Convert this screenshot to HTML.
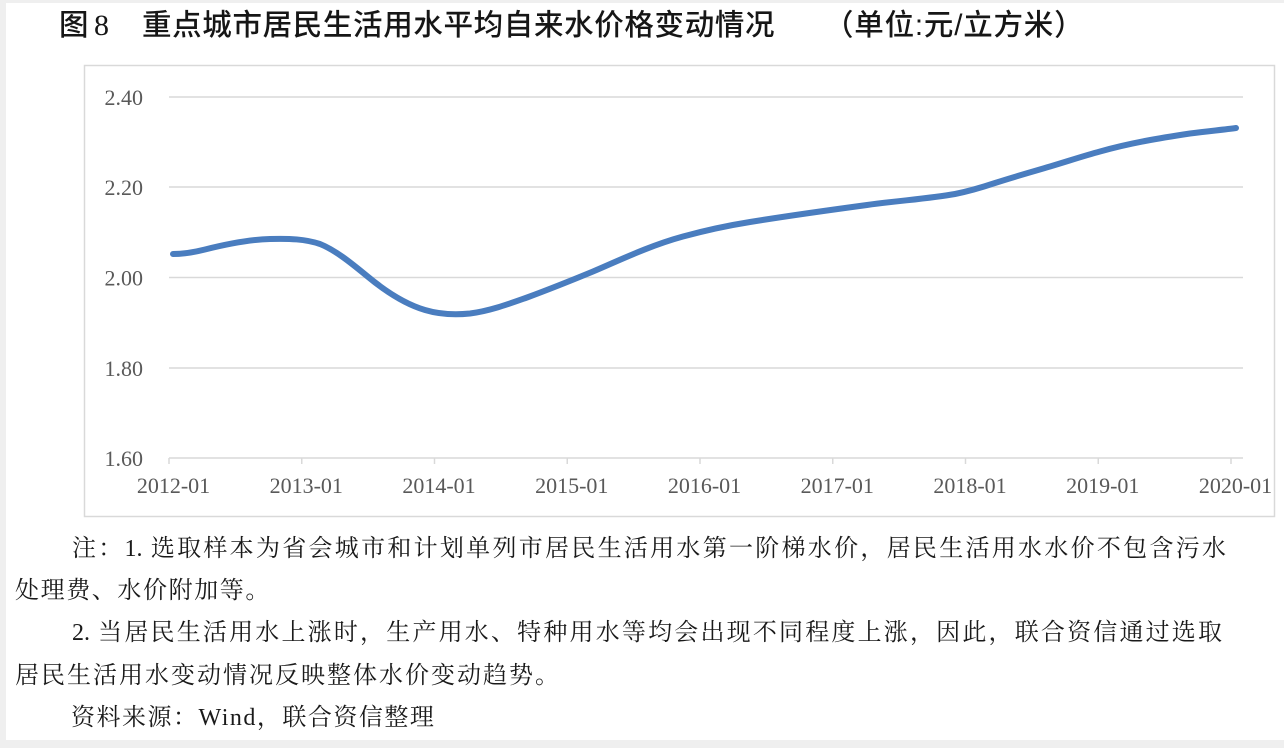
<!DOCTYPE html>
<html>
<head>
<meta charset="utf-8">
<style>
  html,body{margin:0;padding:0;}
  body{width:1284px;height:748px;background:#efefef;position:relative;overflow:hidden;}
  .page{position:absolute;left:6px;top:3px;width:1278px;height:737px;background:#ffffff;}
  .abs{position:absolute;white-space:nowrap;}
  .title{font-family:"Liberation Sans","Noto Sans CJK SC",sans-serif;font-size:29.5px;line-height:30px;color:#161616;font-weight:500;}
  .note{font-family:"Liberation Serif","Noto Serif CJK SC",serif;font-size:24px;line-height:30px;color:#1a1a1a;}
  .just{text-align:justify;text-align-last:justify;text-justify:inter-character;}
  svg{position:absolute;left:0;top:0;}
</style>
</head>
<body>
<div class="page"></div>

<!-- Title -->
<div class="abs title" style="left:59px;top:11px;">图</div>
<div class="abs title" style="left:94px;top:11px;font-family:'Liberation Serif',serif;font-size:30px;font-weight:normal;">8</div>
<div class="abs title" style="left:142px;top:11px;letter-spacing:0.65px;">重点城市居民生活用水平均自来水价格变动情况</div>
<div class="abs title" style="left:824px;top:11px;letter-spacing:0.8px;">（单位:元/立方米）</div>

<svg width="1284" height="748" viewBox="0 0 1284 748" xmlns="http://www.w3.org/2000/svg">
  <!-- frame -->
  <rect x="84.5" y="65.5" width="1190" height="451" fill="#ffffff" stroke="#d9d9d9" stroke-width="1.5"/>
  <!-- gridlines -->
  <g stroke="#d9d9d9" stroke-width="1.5">
    <line x1="169" y1="97" x2="1243" y2="97"/>
    <line x1="169" y1="187" x2="1243" y2="187"/>
    <line x1="169" y1="277.5" x2="1243" y2="277.5"/>
    <line x1="169" y1="368" x2="1243" y2="368"/>
    <line x1="169" y1="458" x2="1243" y2="458"/>
    <!-- ticks -->
    <line x1="169" y1="458" x2="169" y2="464"/>
    <line x1="301.75" y1="458" x2="301.75" y2="464"/>
    <line x1="434.5" y1="458" x2="434.5" y2="464"/>
    <line x1="567.25" y1="458" x2="567.25" y2="464"/>
    <line x1="700" y1="458" x2="700" y2="464"/>
    <line x1="832.75" y1="458" x2="832.75" y2="464"/>
    <line x1="965.5" y1="458" x2="965.5" y2="464"/>
    <line x1="1098.25" y1="458" x2="1098.25" y2="464"/>
    <line x1="1231" y1="458" x2="1231" y2="464"/>
  </g>
  <!-- y labels -->
  <g font-family="Liberation Serif, serif" font-size="22" fill="#595959" text-anchor="end">
    <text x="143" y="105">2.40</text>
    <text x="143" y="195">2.20</text>
    <text x="143" y="285.5">2.00</text>
    <text x="143" y="376">1.80</text>
    <text x="143" y="466">1.60</text>
  </g>
  <!-- x labels -->
  <g font-family="Liberation Serif, serif" font-size="22" fill="#595959" text-anchor="middle">
    <text x="173.5" y="493">2012-01</text>
    <text x="306.25" y="493">2013-01</text>
    <text x="439" y="493">2014-01</text>
    <text x="571.75" y="493">2015-01</text>
    <text x="704.5" y="493">2016-01</text>
    <text x="837.25" y="493">2017-01</text>
    <text x="970" y="493">2018-01</text>
    <text x="1102.75" y="493">2019-01</text>
    <text x="1235.5" y="493">2020-01</text>
  </g>
  <!-- series -->
  <path fill="none" stroke="#4a7dbf" stroke-width="6" stroke-linecap="round" stroke-linejoin="round"
    d="M173,254 C185,254 195,252 205,249.5 C225,244.5 250,239.5 270,239 C290,238.5 305,239 320,244
       C335,250 350,262 367,276 C385,291 405,304 425,310 C440,314.5 455,315 470,313.5
       C490,311 510,303.5 527,297.5 C550,289 570,281 593,271.5 C620,260 650,245.5 683,236.5
       C705,230.5 725,226 750,222 C790,215.5 830,210 867,205 C900,200.5 930,198.5 955,194
       C970,191 980,188 995,183 C1015,176.5 1035,171 1050,166.5 C1070,160.5 1085,155.5 1100,151.5
       C1130,143 1160,138 1190,133.5 C1210,131 1225,129.5 1236,128"/>
</svg>

<!-- Notes -->
<div class="abs note just" style="left:72px;top:534px;width:1154px;">注：1. 选取样本为省会城市和计划单列市居民生活用水第一阶梯水价，居民生活用水水价不包含污水</div>
<div class="abs note" style="left:15px;top:576px;letter-spacing:1.6px;">处理费、水价附加等。</div>
<div class="abs note just" style="left:72px;top:618px;width:1150px;">2. 当居民生活用水上涨时，生产用水、特种用水等均会出现不同程度上涨，因此，联合资信通过选取</div>
<div class="abs note" style="left:15px;top:661px;letter-spacing:2px;">居民生活用水变动情况反映整体水价变动趋势。</div>
<div class="abs note" style="left:71px;top:703px;letter-spacing:1.5px;">资料来源：Wind，联合资信整理</div>
</body>
</html>
